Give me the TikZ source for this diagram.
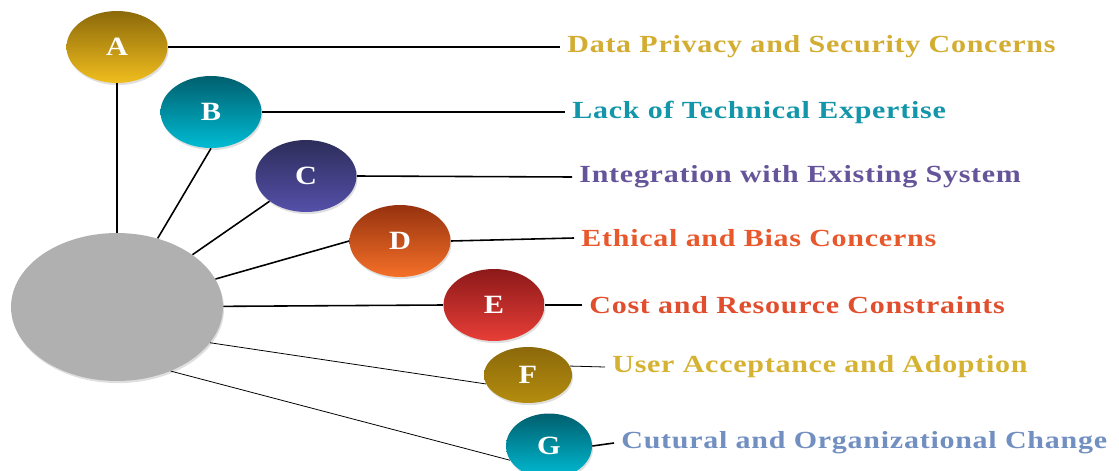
\documentclass[tikz,border=0pt]{standalone}
\usepackage{fontspec}
\setmainfont{Liberation Serif}
\newfontfamily\tagfont[FakeStretch=1.22, LetterSpace=3]{Liberation Serif}
\newfontfamily\letterfont[FakeStretch=1.15]{Liberation Serif}
\usepackage{xcolor}
\usepackage{tikz}
\usetikzlibrary{shapes,positioning,shadows}

\definecolor{hubgray}{RGB}{176,176,176}
\definecolor{goldtop}{RGB}{140,105,10}
\definecolor{goldbot}{RGB}{240,190,30}
\definecolor{tealtop}{RGB}{0,95,110}
\definecolor{tealbot}{RGB}{0,188,212}
\definecolor{indigotop}{RGB}{45,45,90}
\definecolor{indigobot}{RGB}{85,80,170}
\definecolor{orangetop}{RGB}{150,50,15}
\definecolor{orangebot}{RGB}{245,112,40}
\definecolor{redtop}{RGB}{140,25,25}
\definecolor{redbot}{RGB}{232,62,55}
\definecolor{ochretop}{RGB}{140,105,10}
\definecolor{ochrebot}{RGB}{180,140,15}
\definecolor{privacytxt}{RGB}{210,173,50}
\definecolor{expertisetxt}{RGB}{20,150,170}
\definecolor{integrationtxt}{RGB}{102,84,155}
\definecolor{ethicstxt}{RGB}{232,88,45}
\definecolor{costtxt}{RGB}{225,78,45}
\definecolor{adoptiontxt}{RGB}{213,178,50}
\definecolor{culturetxt}{RGB}{113,143,193}

\begin{document}
\begin{tikzpicture}[
        x=0.02cm, y=-0.02cm,
        bubble/.style={ellipse, minimum width=2.02cm, minimum height=1.44cm, inner sep=0pt,
            text=white, font=\letterfont\fontsize{15}{17}\selectfont\bfseries,
            drop shadow={opacity=0.25, shadow xshift=0.6pt, shadow yshift=-1.2pt}},
        tag/.style={anchor=west, inner sep=4pt, font=\tagfont\fontsize{14}{16}\selectfont\bfseries},
        spoke/.style={draw, line width=0.9pt},
        faint/.style={draw, line width=0.45pt}
    ]
        \useasboundingbox (0,0) rectangle (1119,470);

        \node[bubble, fill=hubgray, minimum width=4.24cm, minimum height=2.96cm] (hub) at (117,307) {};
        \node[bubble, top color=goldtop, bottom color=goldbot] (a) at (117,47) {A};
        \node[bubble, top color=tealtop, bottom color=tealbot] (b) at (211,112) {B};
        \node[bubble, top color=indigotop, bottom color=indigobot] (c) at (306,176) {C};
        \node[bubble, top color=orangetop, bottom color=orangebot] (d) at (400,241) {D};
        \node[bubble, top color=redtop, bottom color=redbot] (e) at (494,305) {E};
        \node[bubble, top color=ochretop, bottom color=ochrebot, minimum width=1.76cm, minimum height=1.12cm] (f) at (528,375) {F};
        \node[bubble, top color=tealtop, bottom color=tealbot, minimum width=1.72cm, minimum height=1.3cm] (g) at (549,446) {G};

        \node[tag, text=privacytxt] (privacy) at (560,47) {Data Privacy and Security Concerns};
        \node[tag, text=expertisetxt] (expertise) at (565,112) {Lack of Technical Expertise};
        \node[tag, text=integrationtxt] (integration) at (572,177) {Integration with Existing System};
        \node[tag, text=ethicstxt] (ethics) at (574,238) {Ethical and Bias Concerns};
        \node[tag, text=costtxt] (cost) at (582,305) {Cost and Resource Constraints};
        \node[tag, text=adoptiontxt] (adoption) at (605,367) {User Acceptance and Adoption};
        \node[tag, text=culturetxt] (culture) at (614,443) {Cutural and Organizational Change};

        \draw[spoke] (a) -- (hub);
        \draw[spoke] (b.south) -- (hub);
        \draw[spoke] (c) -- (hub);
        \draw[spoke] (d.west) -- (hub);
        \draw[spoke] (e.west) -- (hub);
        \draw[faint] (hub.-21) -- (f.192);
        \draw[faint] (hub.-50) -- (g.200);

        \draw[spoke] (a.east) -- (privacy.west);
        \draw[spoke] (b.east) -- (expertise.west);
        \draw[spoke] (c.east) -- (integration.west);
        \draw[spoke] (d.east) -- (ethics.west);
        \draw[spoke] (e.east) -- (cost.west);
        \draw[faint] (f.12) -- (adoption.west);
        \draw[spoke] (g.east) -- (culture.west);
    \end{tikzpicture}
\end{document}
